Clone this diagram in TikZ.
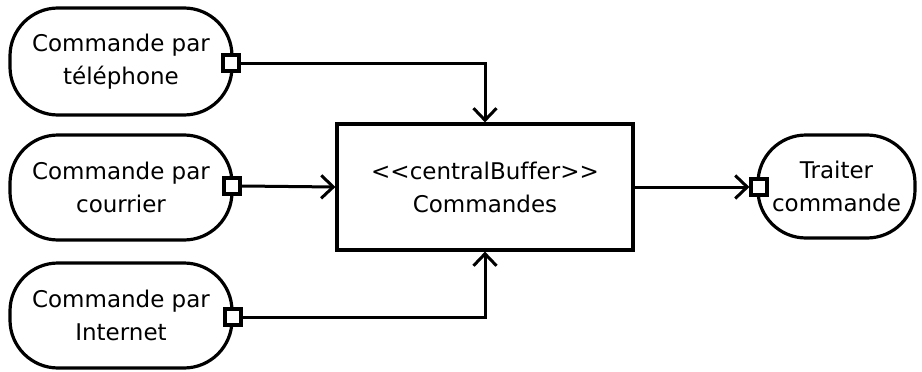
\documentclass[tikz,border=0pt]{standalone}
\usepackage{fontspec}
\setmainfont[Ligatures={NoCommon,TeXOff}]{DejaVu Sans}
\usetikzlibrary{arrows.meta}
\begin{document}
\begin{tikzpicture}[x=1pt,y=-1pt,
  action/.style={draw,line width=3.2pt,rounded corners=48pt,fill=white,align=center,
    font=\fontsize{23}{33}\selectfont,inner sep=0pt},
  pin/.style={draw,line width=3.2pt,fill=white,minimum size=16pt,inner sep=0pt},
  buffer/.style={draw,line width=3.2pt,align=center,minimum width=296pt,minimum height=126pt,
    font=\fontsize{23}{33}\selectfont},
  flow/.style={line width=3pt,-{Straight Barb[length=12pt,width=23pt,line width=3pt]}}]
\useasboundingbox (0,0) rectangle (922,372);
\node[action,minimum width=222pt,minimum height=107pt] (a1) at (121,61.5) {Commande par\\téléphone};
\node[action,minimum width=222pt,minimum height=105pt] (a2) at (121,187.5) {Commande par\\courrier};
\node[action,minimum width=222pt,minimum height=105pt] (a3) at (121,315.5) {Commande par\\Internet};
\node[action,minimum width=157pt,minimum height=103pt] (a4) at (836.5,186.5) {Traiter\\commande};
\node[buffer] (b) at (485,187) {<{}\kern0pt<{}\kern0pt centralBuffer>{}\kern0pt>\\Commandes};
\node[pin] (p1) at (231,63) {};
\node[pin] (p2) at (232,186) {};
\node[pin] (p3) at (233,317) {};
\node[pin] (p4) at (759,187) {};
\draw[flow] (p1.east) -| (b.north);
\draw[flow] (p2.east) -- (b.west);
\draw[flow] (p3.east) -| (b.south);
\draw[flow] (b.east) -- (p4.west);
\end{tikzpicture}
\end{document}
